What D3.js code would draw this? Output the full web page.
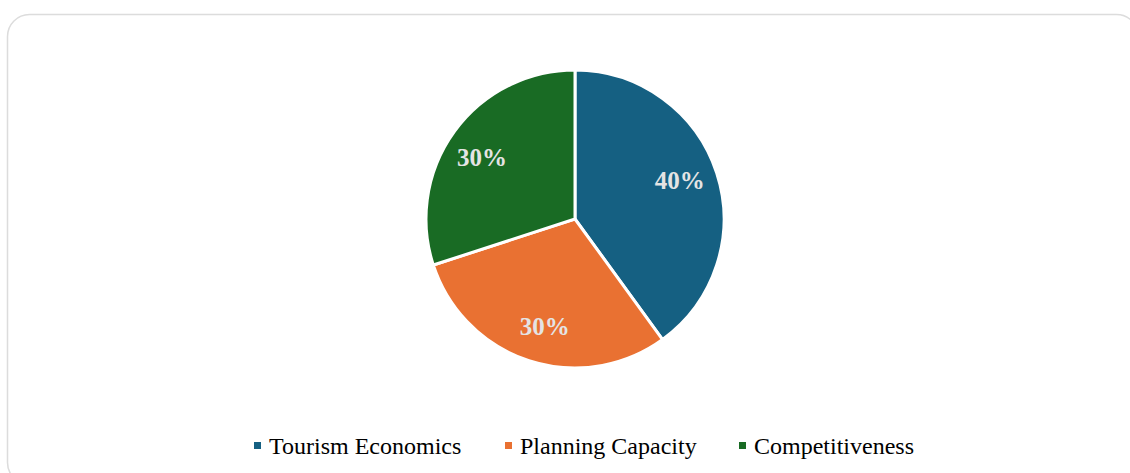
<!DOCTYPE html>
<html>
<head>
<meta charset="utf-8">
<script src="https://cdn.jsdelivr.net/npm/d3@7"></script>
<style>
  html, body { margin: 0; padding: 0; background: #fff; overflow: hidden; }
</style>
</head>
<body>
<div id="chart"></div>
<script>
// chart data
var categories = ["Tourism Economics", "Planning Capacity", "Competitiveness"];
var shares = [40, 30, 30];
var colours = ["#156082", "#E97132", "#196B24"];

var W = 1130, H = 473;
var cx = 575, cy = 219, radius = 149;

var svg = d3.select("#chart")
    .append("svg")
    .attr("width", W)
    .attr("height", H);

// card border
svg.append("rect")
    .attr("x", 7.5)
    .attr("y", 14.5)
    .attr("width", 1131)
    .attr("height", 470)
    .attr("rx", 22)
    .attr("fill", "#fff")
    .attr("stroke", "#dcdcdc")
    .attr("stroke-width", 1.5);

var data = categories.map(function (c, i) {
    return { name: c, value: shares[i] };
});

var colour = d3.scaleOrdinal().domain(categories).range(colours);

var pie = d3.pie()
    .sort(null)
    .value(function (d) { return d.value; });

var arc = d3.arc().innerRadius(0).outerRadius(radius);
var labelArc = d3.arc().innerRadius(radius * 0.75).outerRadius(radius * 0.75);

var g = svg.append("g")
    .attr("transform", "translate(" + cx + "," + cy + ")");

var slices = g.selectAll("g.slice")
    .data(pie(data))
    .enter().append("g")
    .attr("class", "slice");

slices.append("path")
    .attr("d", arc)
    .attr("fill", function (d) { return colour(d.data.name); })
    .attr("stroke", "#fff")
    .attr("stroke-width", 3);

slices.append("text")
    .attr("transform", function (d) {
        var c = labelArc.centroid(d);
        // nudge a touch towards the reference positions
        var a = (d.startAngle + d.endAngle) / 2 - 0.04;
        var r = radius * 0.75;
        return "translate(" + (Math.sin(a) * r) + "," + (-Math.cos(a) * r) + ")";
    })
    .attr("text-anchor", "middle")
    .attr("dy", "0.35em")
    .style("font", "bold 25px 'Liberation Serif', 'Times New Roman', serif")
    .style("fill", "#e4e4e4")
    .text(function (d) { return d.data.value + "%"; });

// legend
var legendX = [254, 505, 739];
var legend = svg.selectAll("g.legend")
    .data(categories)
    .enter().append("g")
    .attr("class", "legend")
    .attr("transform", function (d, i) { return "translate(" + legendX[i] + ",446)"; });

legend.append("rect")
    .attr("x", 0)
    .attr("y", -4)
    .attr("width", 7)
    .attr("height", 7)
    .attr("fill", function (d) { return colour(d); });

legend.append("text")
    .attr("x", 15)
    .attr("y", 0)
    .attr("dy", "0.35em")
    .style("font", "24px 'Liberation Serif', 'Times New Roman', serif")
    .style("fill", "#000")
    .text(function (d) { return d; });
</script>
</body>
</html>
